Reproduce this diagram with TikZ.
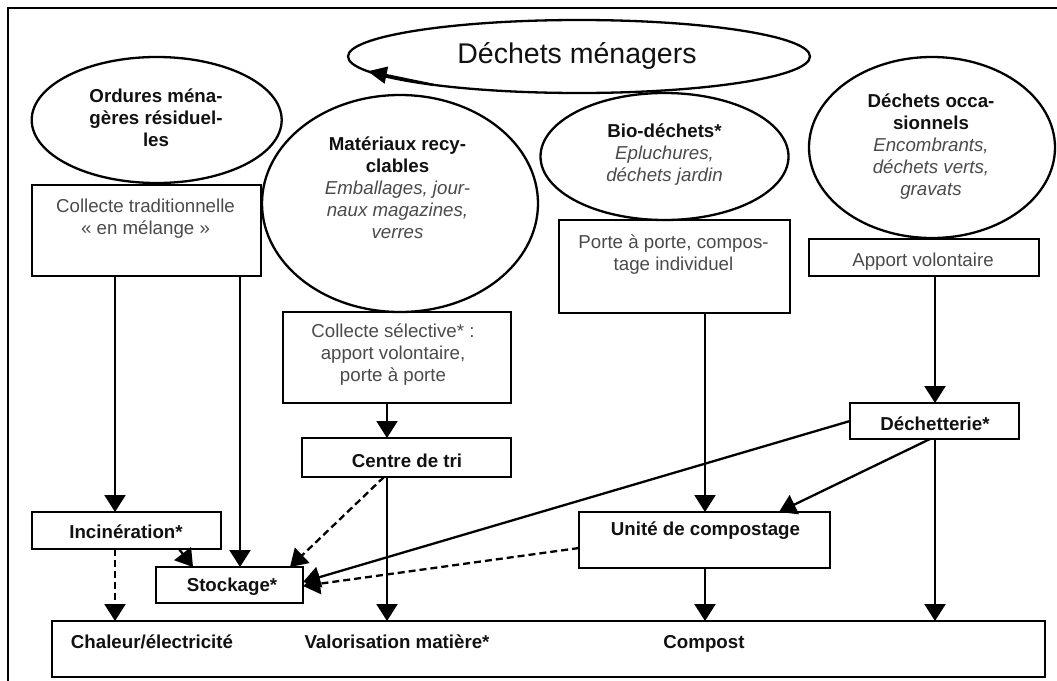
\documentclass[tikz,border=0pt]{standalone}
\usepackage{fontspec}
\setmainfont{Liberation Sans}
\usetikzlibrary{arrows.meta,shapes.geometric,calc}
\definecolor{bk}{HTML}{111111}
\definecolor{gr}{HTML}{4A4A4A}
\newcommand{\mybf}[1]{{\bfseries\color{bk}#1}}
\newcommand{\myit}[1]{{\itshape\color{gr}#1}}
\newcommand{\myrm}[1]{{\color{gr}#1}}
\newcommand{\fs}{\fontsize{18.7}{22}\selectfont}
\tikzset{
  ell/.style={draw, ellipse, line width=2.3pt, inner sep=0pt, outer sep=0pt},
  boxn/.style={draw, rectangle, line width=2.6pt, inner sep=0pt, outer sep=0pt},
  txt/.style={anchor=north, inner sep=0pt, outer sep=0pt, align=center, font=\fs},
  arr/.style={line width=2.3pt, -{Triangle[length=17pt,width=21pt]}},
  dsh/.style={arr, dash pattern=on 7pt off 4pt},
}
\begin{document}
\begin{tikzpicture}[x=1pt,y=-1pt]
\useasboundingbox (0,0) rectangle (1057,680);
% frame
\coordinate (fa) at (8,690);
\coordinate (fb) at (8,8);
\coordinate (fc) at (1070,8);
\draw[line width=2.4pt] (fa) -- (fb) -- (fc);

% ellipses
\node[ell, minimum width=462pt, minimum height=73pt] (dm) at (579,56.5) {};
\node[anchor=base, inner sep=0pt, font=\fontsize{28.5}{32}\selectfont, text=bk] (dmt) at (577,63) {Déchets ménagers};
\draw[line width=2.3pt, -{Triangle[length=19pt,width=17pt]}] (dm.191) -- (dm.184.3);

\node[ell, minimum width=250pt, minimum height=126pt] (om) at (156.7,120) {};
\node[txt] (omt) at (156,86.6) {\mybf{\strut Ordures ména-}\\\mybf{gères résiduel-}\\\mybf{les}};

\node[ell, minimum width=276pt, minimum height=217pt] (mr) at (400,203.5) {};
\node[txt] (mrt) at (397.5,134.6) {\mybf{\strut Matériaux recy-}\\\mybf{clables}\\\myit{Emballages, jour-}\\\myit{naux magazines,}\\\myit{verres}};

\node[ell, minimum width=248pt, minimum height=127pt] (bd) at (664.5,156.5) {};
\node[txt] (bdt) at (664.5,121.6) {\mybf{\strut Bio-déchets*}\\\myit{Epluchures,}\\\myit{déchets jardin}};

\node[ell, minimum width=246pt, minimum height=181pt] (do) at (932,147.5) {};
\node[txt] (dot) at (931,91.6) {\mybf{\strut Déchets occa-}\\\mybf{sionnels}\\\myit{Encombrants,}\\\myit{déchets verts,}\\\myit{gravats}};

% boxes
\node[boxn, minimum width=229pt, minimum height=91pt] (ct) at (146.5,230.5) {};
\node[txt] (ctt) at (145.5,196.6) {\myrm{\strut Collecte traditionnelle}\\\myrm{« en mélange »}};

\node[boxn, minimum width=228pt, minimum height=91pt] (cs) at (397,357.5) {};
\node[txt] (cst) at (393,321.6) {\myrm{\strut Collecte sélective* :}\\\myrm{apport volontaire,}\\\myrm{porte à porte}};

\node[boxn, minimum width=209pt, minimum height=39pt] (tri) at (406.5,457.5) {};
\node[txt] (trit) at (407,451.6) {\mybf{\strut Centre de tri}};

\node[boxn, minimum width=231pt, minimum height=93pt] (pp) at (674.5,266.5) {};
\node[txt] (ppt) at (673.5,232.6) {\myrm{\strut Porte à porte, compos-}\\\myrm{tage individuel}};

\node[boxn, minimum width=230pt, minimum height=37pt] (av) at (924,257.5) {};
\node[txt] (avt) at (923,250.6) {\myrm{\strut Apport volontaire}};

\node[boxn, minimum width=169pt, minimum height=36pt] (dech) at (934.5,421) {};
\node[txt] (decht) at (935,414.6) {\mybf{\strut Déchetterie*}};

\node[boxn, minimum width=251pt, minimum height=56pt] (uc) at (704.5,540) {};
\node[txt] (uct) at (705.5,519.6) {\mybf{\strut Unité de compostage}};

\node[boxn, minimum width=189pt, minimum height=37pt] (inc) at (126.5,530.5) {};
\node[txt] (inct) at (126,522.6) {\mybf{\strut Incinération*}};

\node[boxn, minimum width=147pt, minimum height=36pt] (st) at (229.5,585) {};
\node[txt] (stt) at (232,575.6) {\mybf{\strut Stockage*}};

\node[boxn, minimum width=993pt, minimum height=56pt] (bot) at (548.5,649) {};
\node[txt] (b1) at (152,632.6) {\mybf{\strut Chaleur/électricité}};
\node[txt] (b2) at (397,632.6) {\mybf{\strut Valorisation matière*}};
\node[txt] (b3) at (704,632.6) {\mybf{\strut Compost}};

% connectors
\draw[arr] (ct.south -| 115,0) -- (inc.north -| 115,0);
\draw[arr] (ct.south -| 240,0) -- (st.north -| 240,0);
\draw[arr] (cs.south -| 387,0) -- (tri.north -| 387,0);
\draw[arr] (tri.south -| 387,0) -- (bot.north -| 387,0);
\draw[dsh] (tri.south -| 384,0) -- (st.north -| 290,0);
\draw[dsh] (inc.south -| 179,0) -- (st.north -| 193,0);
\draw[dsh] (inc.south -| 115,0) -- (bot.north -| 115,0);
\draw[arr] (dech.west) -- ($(st.east)+(0,-3)$);
\draw[dsh] ($(uc.west)+(0,8)$) -- ($(st.east)+(0,1)$);
\draw[arr] (pp.south -| 705,0) -- (uc.north -| 705,0);
\draw[arr] (av.south -| 935,0) -- (dech.north -| 935,0);
\draw[arr] (dech.south -| 930,0) -- (uc.north -| 779,0);
\draw[arr] (dech.south -| 935,0) -- (bot.north -| 935,0);
\draw[arr] (uc.south -| 705,0) -- (bot.north -| 705,0);
\end{tikzpicture}
\end{document}
